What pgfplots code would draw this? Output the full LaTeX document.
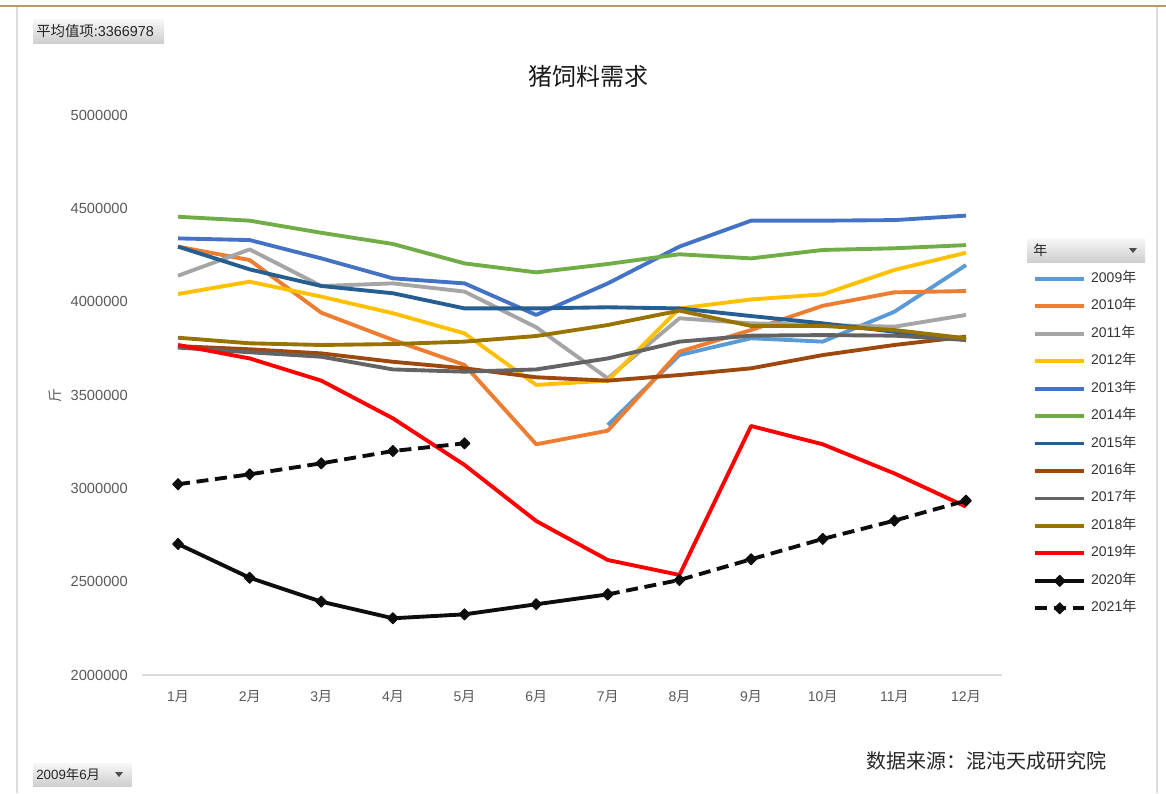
\documentclass[border=0pt]{standalone}
\usepackage{fontspec}
\setmainfont{Liberation Sans}
\newfontfamily\cjk{Noto Sans CJK SC}
\usepackage{pgfplots}
\pgfplotsset{compat=1.18}
\definecolor{cA}{HTML}{5B9BD5}
\definecolor{cB}{HTML}{ED7D31}
\definecolor{cC}{HTML}{A5A5A5}
\definecolor{cD}{HTML}{FFC000}
\definecolor{cE}{HTML}{4472C4}
\definecolor{cF}{HTML}{70AD47}
\definecolor{cG}{HTML}{255E91}
\definecolor{cH}{HTML}{9E480E}
\definecolor{cI}{HTML}{636363}
\definecolor{cJ}{HTML}{997300}
\definecolor{cK}{HTML}{FF0000}
\definecolor{cL}{HTML}{0D0D0D}
\definecolor{framegold}{HTML}{B89B6A}
\definecolor{framegray}{HTML}{DCDCDC}
\definecolor{axisgray}{HTML}{D9D9D9}
\definecolor{ticktext}{HTML}{595959}
\newcommand{\yue}{{\cjk 月}}
\newcommand{\nian}{{\cjk 年}}
\begin{document}
\begin{tikzpicture}
\path[use as bounding box] (0pt,0pt) rectangle (874.5pt,-594.75pt);
\begin{scope}[x=0.75pt,y=-0.75pt]
\draw[framegold, line width=1.5pt] (0,6) -- (1166,6);
\draw[framegray, line width=1.5pt] (17,7) -- (17,793);
\draw[framegray, line width=1.5pt] (1157,7) -- (1157,793);
\shade[top color=gray!6, bottom color=gray!38] (33,19) rectangle (164,43);
\node[anchor=west, inner sep=0pt, font=\fontsize{10.8}{12}\selectfont, text=black!85] at (36,31.5) {{\cjk 平均值项}:3366978};
\node[font=\cjk\fontsize{18}{20}\selectfont, text=black!90] at (588,76) {猪饲料需求};
\shade[top color=gray!6, bottom color=gray!38] (1027,238) rectangle (1145,262);
\node[anchor=west, inner sep=0pt, font=\cjk\fontsize{10.5}{12}\selectfont, text=black!85] at (1033,250) {年};
\fill[black!70] (1129,248) -- (1137,248) -- (1133,253) -- cycle;
\shade[top color=gray!6, bottom color=gray!38] (33,763) rectangle (132,786);
\node[anchor=west, inner sep=0pt, font=\fontsize{10}{12}\selectfont, text=black!85] at (36,774.5) {2009\nian 6\yue};
\fill[black!70] (115,772) -- (123,772) -- (119,777) -- cycle;
\node[anchor=west, inner sep=0pt, font=\cjk\fontsize{15}{16}\selectfont, text=black!85] at (866,761) {数据来源：混沌天成研究院};
\end{scope}
\begin{axis}[
  at={(106.65pt,-506.25pt)}, anchor=south west,
  scale only axis, width=644.7pt, height=420pt,
  xmin=0.5, xmax=12.5, ymin=2000000, ymax=5000000,
  axis x line*=bottom, axis y line*=left,
  x axis line style={draw=axisgray, line width=1pt, -},
  y axis line style={draw=none},
  major tick length=0pt, tick style={draw=none},
  xtick={1,2,3,4,5,6,7,8,9,10,11,12},
  xticklabels={1\yue,2\yue,3\yue,4\yue,5\yue,6\yue,7\yue,8\yue,9\yue,10\yue,11\yue,12\yue},
  ytick={2000000,2500000,3000000,3500000,4000000,4500000,5000000},
  yticklabels={2000000,2500000,3000000,3500000,4000000,4500000,5000000},
  scaled y ticks=false,
  yticklabel style={inner sep=0pt, anchor=east, xshift=-10.65pt, font=\fontsize{11}{12}\selectfont, text=ticktext},
  xticklabel style={inner sep=0pt, anchor=north, yshift=-11.5pt, font=\fontsize{10.5}{12}\selectfont, text=ticktext},
  ylabel={\cjk 斤},
  ylabel style={at={(axis description cs:-0.1014,0.5)}, anchor=center, font=\fontsize{10.5}{12}\selectfont, text=ticktext},
  every axis plot/.append style={line width=2.9pt, line join=round},
  legend cell align=left,
  legend image code/.code={\draw[mark repeat=2,mark phase=2,#1] plot coordinates {(0pt,0pt) (18.4pt,0pt) (36.75pt,0pt)};},
  legend style={at={(axis description cs:1.0363,0.720)}, anchor=north west, draw=none, fill=none,
    inner sep=0pt, row sep=10.6pt, column sep=3.75pt,
    font=\fontsize{10.5}{12}\selectfont, text=black!80,
    nodes={inner sep=0pt, text height=7.6pt, text depth=2.4pt}},
  clip=false,
]
\addplot[cA] coordinates {(7,3339000)(8,3714000)(9,3804000)(10,3786000)(11,3946000)(12,4196000)};
\addlegendentry{2009\nian}
\addplot[cB] coordinates {(1,4295000)(2,4223000)(3,3941000)(4,3795000)(5,3661000)(6,3236000)(7,3309000)(8,3732000)(9,3848000)(10,3978000)(11,4050000)(12,4057000)};
\addlegendentry{2010\nian}
\addplot[cC] coordinates {(1,4139000)(2,4280000)(3,4084000)(4,4098000)(5,4054000)(6,3863000)(7,3589000)(8,3911000)(9,3884000)(10,3875000)(11,3866000)(12,3929000)};
\addlegendentry{2011\nian}
\addplot[cD] coordinates {(1,4041000)(2,4107000)(3,4027000)(4,3938000)(5,3830000)(6,3554000)(7,3577000)(8,3964000)(9,4012000)(10,4039000)(11,4170000)(12,4262000)};
\addlegendentry{2012\nian}
\addplot[cE] coordinates {(1,4339000)(2,4330000)(3,4232000)(4,4125000)(5,4098000)(6,3929000)(7,4098000)(8,4295000)(9,4434000)(10,4434000)(11,4437000)(12,4461000)};
\addlegendentry{2013\nian}
\addplot[cF] coordinates {(1,4455000)(2,4434000)(3,4369000)(4,4309000)(5,4205000)(6,4157000)(7,4202000)(8,4254000)(9,4232000)(10,4277000)(11,4286000)(12,4303000)};
\addlegendentry{2014\nian}
\addplot[cG] coordinates {(1,4295000)(2,4173000)(3,4084000)(4,4045000)(5,3964000)(6,3964000)(7,3970000)(8,3964000)(9,3923000)(10,3884000)(11,3839000)(12,3795000)};
\addlegendentry{2015\nian}
\addplot[cH] coordinates {(1,3762000)(2,3745000)(3,3723000)(4,3678000)(5,3643000)(6,3595000)(7,3577000)(8,3607000)(9,3643000)(10,3714000)(11,3768000)(12,3812000)};
\addlegendentry{2016\nian}
\addplot[cI] coordinates {(1,3754000)(2,3729000)(3,3705000)(4,3637000)(5,3625000)(6,3637000)(7,3696000)(8,3786000)(9,3818000)(10,3821000)(11,3818000)(12,3795000)};
\addlegendentry{2017\nian}
\addplot[cJ] coordinates {(1,3807000)(2,3777000)(3,3768000)(4,3773000)(5,3786000)(6,3816000)(7,3875000)(8,3952000)(9,3870000)(10,3870000)(11,3848000)(12,3804000)};
\addlegendentry{2018\nian}
\addplot[cK] coordinates {(1,3768000)(2,3696000)(3,3577000)(4,3375000)(5,3125000)(6,2825000)(7,2616000)(8,2536000)(9,3334000)(10,3236000)(11,3080000)(12,2902000)};
\addlegendentry{2019\nian}
\addplot[cL, mark=diamond*, mark size=4pt, mark options={solid, xscale=1.3, line width=1pt}] coordinates {(1,2702000)(2,2521000)(3,2393000)(4,2304000)(5,2325000)(6,2379000)(7,2432000)};
\addlegendentry{2020\nian}
\addplot[cL, dash pattern=on 9pt off 5pt, mark=diamond*, mark size=4pt, mark options={solid, xscale=1.3, line width=1pt}] coordinates {(1,3022000)(2,3075000)(3,3134000)(4,3200000)(5,3241000)};
\addlegendentry{2021\nian}
\addplot[cL, dash pattern=on 9pt off 5pt, mark=diamond*, mark size=4pt, mark options={solid, xscale=1.3, line width=1pt}, forget plot] coordinates {(7,2432000)(8,2509000)(9,2620000)(10,2729000)(11,2827000)(12,2934000)};
\end{axis}
\end{tikzpicture}
\end{document}
